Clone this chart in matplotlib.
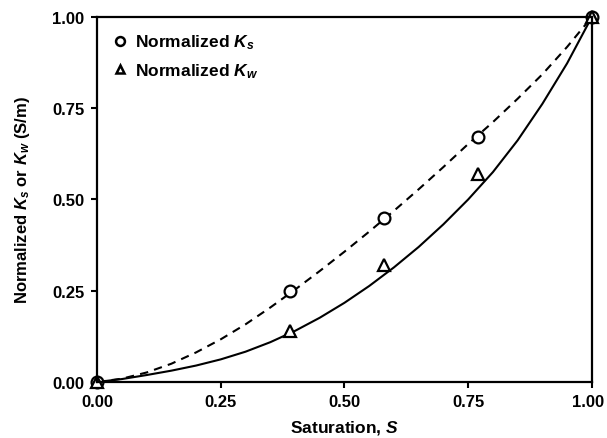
import matplotlib
matplotlib.use('Agg')
import matplotlib.pyplot as plt
from matplotlib.transforms import ScaledTranslation

# measured points
sat_pts = [0.0, 0.39, 0.58, 0.77, 1.0]
ks_pts = [0.0, 0.25, 0.45, 0.67, 1.0]
kw_pts = [0.0, 0.14, 0.32, 0.57, 1.0]

# fitted curves
sat_fit = [0.0, 0.05, 0.10, 0.15, 0.20, 0.25, 0.30, 0.35, 0.40, 0.45, 0.50,
           0.55, 0.60, 0.65, 0.70, 0.75, 0.80, 0.85, 0.90, 0.95, 1.0]
ks_fit = [0.0, 0.009, 0.026, 0.050, 0.081, 0.117, 0.158, 0.204, 0.253, 0.304, 0.357,
          0.412, 0.469, 0.528, 0.589, 0.652, 0.712, 0.776, 0.843, 0.918, 1.0]
kw_fit = [0.0, 0.008, 0.019, 0.031, 0.045, 0.062, 0.083, 0.109, 0.140, 0.176, 0.217,
          0.263, 0.314, 0.370, 0.432, 0.500, 0.575, 0.662, 0.762, 0.873, 1.0]

plt.rcParams['font.family'] = 'Liberation Sans'
plt.rcParams['font.weight'] = 'bold'
plt.rcParams['mathtext.fontset'] = 'custom'
plt.rcParams['mathtext.it'] = 'Liberation Sans:italic:bold'
plt.rcParams['mathtext.rm'] = 'Liberation Sans:bold'

fig = plt.figure(figsize=(6.07, 4.39), dpi=100)
ax = fig.add_axes([0.16, 0.1276, 0.815, 0.8314])

ax.plot(sat_fit, ks_fit, color='black', lw=1.5, ls=(0, (4, 3)))
ax.plot(sat_fit, kw_fit, color='black', lw=1.5)
ax.plot(sat_pts, ks_pts, 'o', ms=8.5, mfc='white', mec='black', mew=1.6,
        ls='none', clip_on=False, label='Normalized $K_s$')
ax.plot(sat_pts, kw_pts, '^', ms=8, mfc='white', mec='black', mew=1.6,
        ls='none', clip_on=False, label='Normalized $K_w$')

ax.set_xlim(0, 1)
ax.set_ylim(0, 1)
ticks = [0, 0.25, 0.5, 0.75, 1.0]
ax.set_xticks(ticks)
ax.set_yticks(ticks)
ax.set_xticklabels(['%.2f' % t for t in ticks])
ax.set_yticklabels(['%.2f' % t for t in ticks])
ax.tick_params(direction='out', length=4, width=1.5, labelsize=12, pad=5)
for s in ax.spines.values():
    s.set_linewidth(1.6)

# keep the last x label inside the canvas
last = ax.get_xticklabels()[-1]
last.set_transform(last.get_transform() + ScaledTranslation(-3 / 72, 0, fig.dpi_scale_trans))

ax.set_xlabel('Saturation, $S$', fontsize=12.5, fontweight='bold', labelpad=6)
ax.set_ylabel('Normalized $K_s$ or $K_w$ (S/m)', fontsize=12, fontweight='bold', labelpad=15)

leg = ax.legend(loc='upper left', frameon=False, fontsize=12.5, markerscale=0.75,
                handlelength=0.8, handletextpad=0.5, labelspacing=0.55,
                borderaxespad=0.5)
for h in leg.legend_handles:
    h.set_markeredgewidth(1.8)

fig.savefig('out.png', dpi=100)
